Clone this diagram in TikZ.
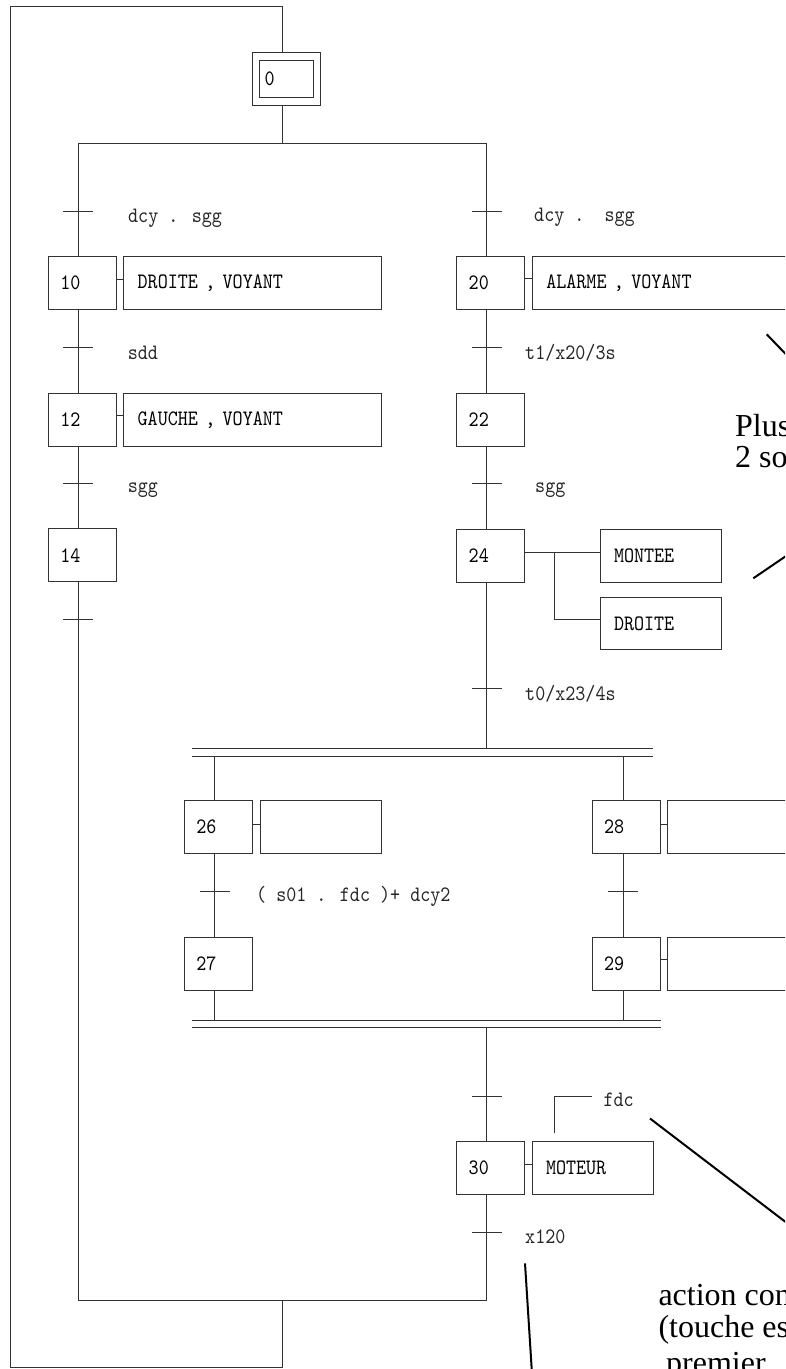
\documentclass[tikz,border=0pt]{standalone}
\usepackage{fontspec}
\newfontfamily\gm{lmmono10-regular}[Extension=.otf, FakeStretch=0.87]
\newfontfamily\ann{Liberation Serif}
\usetikzlibrary{calc}
\begin{document}
\begin{tikzpicture}[x=1pt,y=-1pt,
  ln/.style={line width=0.9pt, draw=black!80},
  gmf/.style={font=\gm\fontsize{22}{24}\selectfont},
  stepbox/.style={ln, rectangle, gmf, minimum height=53pt, text width=44pt, inner xsep=12pt, inner ysep=0pt, align=left, anchor=north west, outer sep=0pt},
  actbox/.style={ln, rectangle, gmf, minimum height=53pt, inner xsep=14pt, inner ysep=0pt, align=left, anchor=north west, outer sep=0pt},
  lbl/.style={gmf, anchor=west, inner sep=0pt, text=black!85},
  note/.style={line width=2pt, draw=black},
  anntext/.style={font=\ann\fontsize{32}{32}\selectfont, anchor=base west, inner sep=0pt},
]
\useasboundingbox (0,0) rectangle (785,1369);
\clip (0,0) rectangle (785,1369);

% initial step
\node[ln, rectangle, minimum width=68.7pt, minimum height=53pt, anchor=north west, inner sep=0pt, outer sep=0pt] (s0o) at (252,52.3) {};
\node[ln, rectangle, gmf, minimum height=37.4pt, text width=43.3pt, inner xsep=5pt, inner ysep=0pt, align=left, outer sep=0pt] (s0i) at (s0o.center) {0};

% steps
\node[stepbox] (s10) at (48.3,256.7) {10};
\node[actbox, text width=229.6pt] (a10) at (123.7,256.7) {DROITE , VOYANT};
\node[stepbox] (s12) at (48.3,393.3) {12};
\node[actbox, text width=229.6pt] (a12) at (123.7,393.3) {GAUCHE , VOYANT};
\node[stepbox] (s14) at (48.3,528.7) {14};

\node[stepbox] (s20) at (456.7,256.7) {20};
\node[actbox, text width=239.7pt] (a20) at (532.3,256.7) {ALARME , VOYANT};
\node[stepbox] (s22) at (456.7,393.3) {22};
\node[stepbox] (s24) at (456.7,529) {24};
\node[actbox, text width=93.7pt] (a24m) at (600,529) {MONTEE};
\node[actbox, text width=93.7pt, minimum height=52pt] (a24d) at (600,597.7) {DROITE};

\node[stepbox] (s26) at (184.4,800.7) {26};
\node[actbox, text width=93.2pt] (a26) at (260,800.7) {};
\node[stepbox] (s27) at (184.4,937.3) {27};
\node[stepbox] (s28) at (592,800.7) {28};
\node[actbox, text width=104.2pt] (a28) at (667.8,800.7) {};
\node[stepbox] (s29) at (592,937.3) {29};
\node[actbox, text width=104.2pt] (a29) at (667.8,937.3) {};

\node[stepbox] (s30) at (456.7,1141.7) {30};
\node[actbox, text width=93.3pt] (a30) at (532,1141.7) {MOTEUR};

% key coordinates
\coordinate (olTR) at (282.7,6.7);
\coordinate (olTL) at (10.7,6.7);
\coordinate (olBL) at (10.7,1367.7);
\coordinate (olBR) at (282.7,1367.7);
\coordinate (divL) at (78.3,143.3);
\coordinate (divR) at (486.7,143.3);
\coordinate (botL) at (78.3,1300);
\coordinate (botR) at (486.7,1300);
\coordinate (botM) at (282.7,1300);
\coordinate (pdA) at (192.3,748.3);
\coordinate (pdB) at (653.3,748.3);
\coordinate (pdC) at (192.3,756);
\coordinate (pdD) at (653.3,756);
\coordinate (b1) at (214.7,756);
\coordinate (b2) at (623.3,756);
\coordinate (pcA) at (192.3,1020.3);
\coordinate (pcB) at (660.7,1020.3);
\coordinate (pcC) at (192.3,1027.7);
\coordinate (pcD) at (660.7,1027.7);
\coordinate (j24) at (554.3,552);
\coordinate (fdcA) at (554.3,1133.3);
\coordinate (fdcB) at (592.3,1096.7);

% outer loop
\draw[ln] (botM) -- (olBR) -- (olBL) -- (olTL) -- (olTR) -- (olTR |- s0o.north);
\draw[ln] (olTR |- s0o.south) -- (olTR |- divL);
\draw[ln] (divL) -- (divR);

% left branch
\draw[ln] (divL) -- (divL |- s10.north);
\draw[ln] (divL |- s10.south) -- (divL |- s12.north);
\draw[ln] (divL |- s12.south) -- (divL |- s14.north);
\draw[ln] (divL |- s14.south) -- (botL) -- (botR);

% right branch
\draw[ln] (divR) -- (divR |- s20.north);
\draw[ln] (divR |- s20.south) -- (divR |- s22.north);
\draw[ln] (divR |- s22.south) -- (divR |- s24.north);
\draw[ln] (divR |- s24.south) -- (divR |- pdA);

% parallel divergence
\draw[ln] (pdA) -- (pdB);
\draw[ln] (pdC) -- (pdD);
\draw[ln] (b1) -- (b1 |- s26.north);
\draw[ln] (b2) -- (b2 |- s28.north);
\draw[ln] (b1 |- s26.south) -- (b1 |- s27.north);
\draw[ln] (b2 |- s28.south) -- (b2 |- s29.north);
\draw[ln] (b1 |- s27.south) -- (b1 |- pcA);
\draw[ln] (b2 |- s29.south) -- (b2 |- pcA);
\draw[ln] (pcA) -- (pcB);
\draw[ln] (pcC) -- (pcD);
\draw[ln] (divR |- pcC) -- (divR |- s30.north);
\draw[ln] (divR |- s30.south) -- (botR);

% action links
\draw[ln] ([yshift=4pt]s10.east) -- ([yshift=4pt]a10.west);
\draw[ln] ([yshift=4.5pt]s12.east) -- ([yshift=4.5pt]a12.west);
\draw[ln] ([yshift=4.5pt]s20.east) -- ([yshift=4.5pt]a20.west);
\draw[ln] ([yshift=3pt]s24.east) -- ([yshift=3pt]a24m.west);
\draw[ln] (j24) |- ([yshift=4pt]a24d.west);
\draw[ln] ([yshift=3pt]s26.east) -- ([yshift=3pt]a26.west);
\draw[ln] ([yshift=3pt]s28.east) -- ([yshift=3pt]a28.west);
\draw[ln] ([yshift=4pt]s29.east) -- ([yshift=4pt]a29.west);
\draw[ln] ([yshift=4pt]s30.east) -- ([yshift=4pt]a30.west);
\draw[ln] (fdcA) |- (fdcB);

% transitions
\foreach \y in {211,347.7,483.3,619.3} \draw[ln] (63.3,\y) -- (93.3,\y);
\foreach \y in {211,347.3,483.3,688.3,1096,1232.3} \draw[ln] (471.7,\y) -- (501.7,\y);
\draw[ln] (199.7,891.7) -- (229.7,891.7);
\draw[ln] (608.3,891.7) -- (638.3,891.7);

% receptivities
\node[lbl] (r1) at (128,218) {dcy . sgg};
\node[lbl] (r2) at (127.7,353.3) {sdd};
\node[lbl] (r3) at (127.7,490) {sgg};
\node[lbl] (r4) at (534,217) {dcy .\ \ sgg};
\node[lbl] (r5) at (525,352.7) {t1/x20/3s};
\node[lbl] (r6) at (535,490) {sgg};
\node[lbl] (r7) at (525,694) {t0/x23/4s};
\node[lbl] (r8) at (256,896.7) {( s01 . fdc )+ dcy2};
\node[lbl] (r9) at (603.3,1100) {fdc};
\node[lbl] (r10) at (525,1236.7) {x120};

% annotations
\draw[note] (766.7,334.3) -- (802,371);
\draw[note] (753.3,578.3) -- (800,546.5);
\draw[note] (650,1118.5) -- (800,1233);
\draw[note] (525,1263.3) -- (532.4,1380);
\node[anntext] (n1) at (735,436.7) {Plus};
\node[anntext] (n2) at (735,467.7) {2 so};
\node[anntext] (n3) at (658.3,1305) {action con};
\node[anntext] (n4) at (658.3,1337) {(touche est};
\node[anntext] (n5) at (666,1373) {premier};
\end{tikzpicture}
\end{document}
